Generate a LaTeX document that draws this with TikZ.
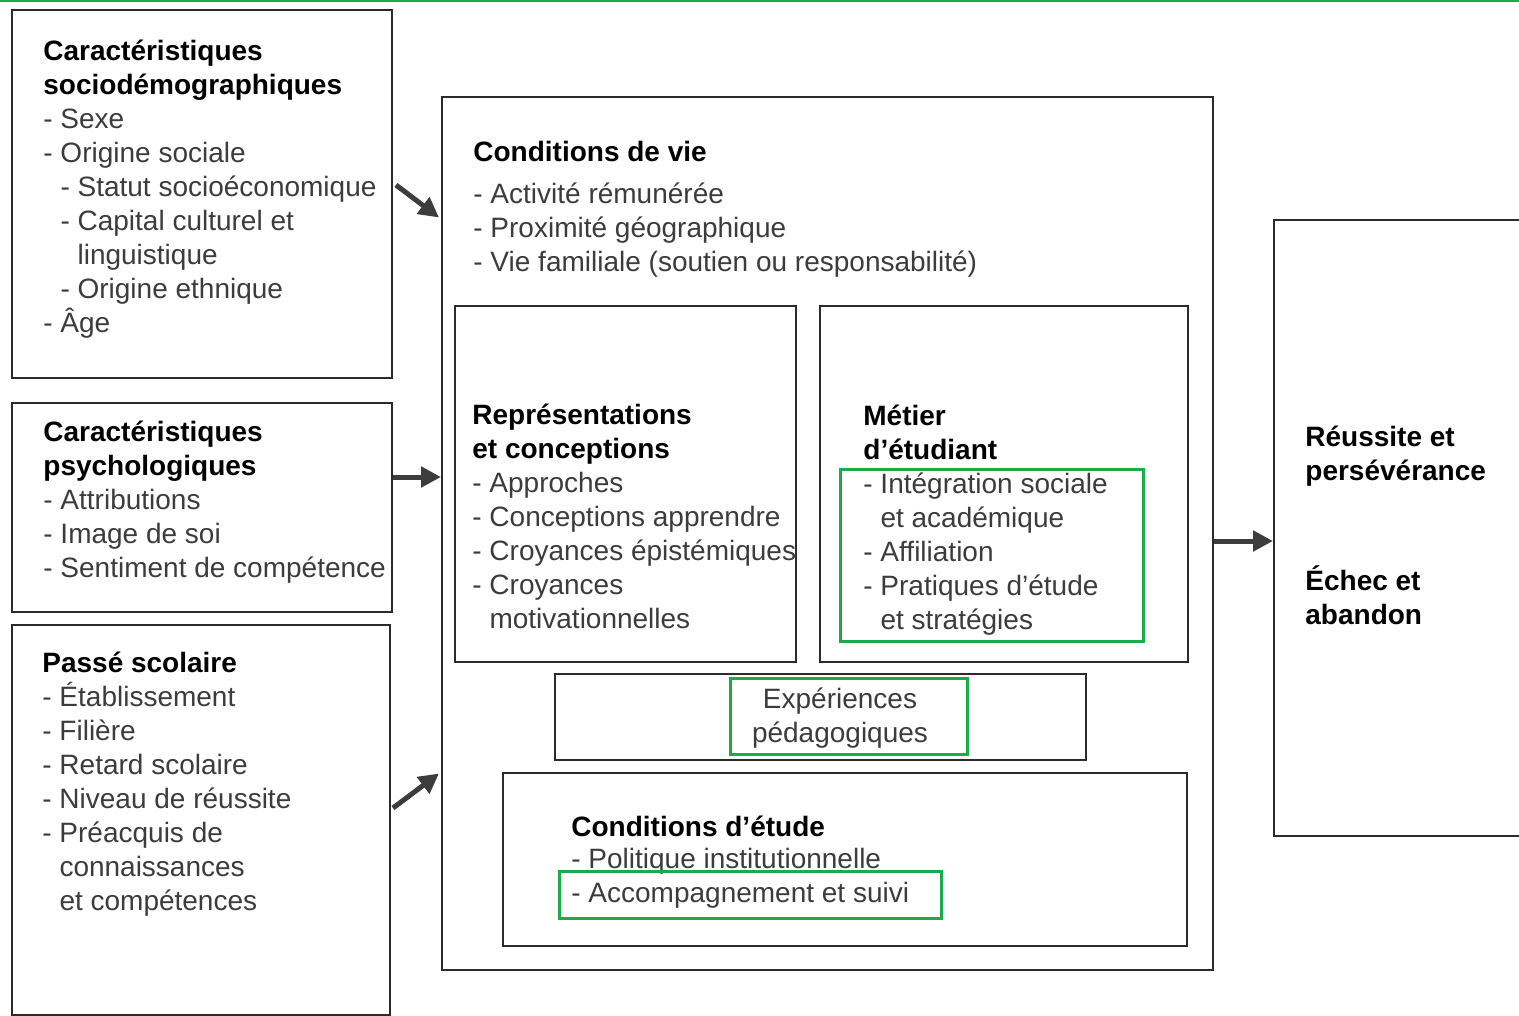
\documentclass[tikz,border=0pt]{standalone}
\usepackage{fontspec}
\setmainfont{Liberation Sans}
\usetikzlibrary{arrows.meta, fit}

\definecolor{ink}{HTML}{2B2B2B}
\definecolor{grayink}{HTML}{3C3C3C}
\definecolor{markgreen}{HTML}{1AAB4A}
\newcommand{\ind}{\phantom{- }}

\begin{document}
\begin{tikzpicture}[x=0.5pt, y=-0.5pt, box node/.style={draw=ink, line width=1pt, inner sep=0pt}, mark node/.style={draw=markgreen, line width=1.5pt, inner sep=0pt},
    text node/.style={anchor=base west, align=left, inner sep=0pt, text=grayink, font=\fontsize{14}{17}\selectfont},
    arrow line/.style={draw=grayink, line width=2.5pt, -{Triangle[length=10pt, width=10pt]}}]
\useasboundingbox[fill=white] (0,0) rectangle (1519,1016);
\draw[draw=markgreen, line width=1.5pt] (0,1) -- (1519,1);
% left column (text nodes sit on the baseline of their last line)
\node[box node, fit={(12,10) (392,378)}] (socio) {};
\node[box node, fit={(12,403) (392,612)}] (psycho) {};
\node[box node, fit={(12,625) (390,1015)}] (passe) {};
\node[text node] (sociotext) at (43,332) {\textbf{\color{black}Caractéristiques}\\\textbf{\color{black}sociodémographiques}\\- Sexe\\- Origine sociale\\\ind- Statut socioéconomique\\\ind- Capital culturel et\\\ind\ind linguistique\\\ind- Origine ethnique\\- Âge};
\node[text node] (psychotext) at (43,577) {\textbf{\color{black}Caractéristiques}\\\textbf{\color{black}psychologiques}\\- Attributions\\- Image de soi\\- Sentiment de compétence};
\node[text node] (passetext) at (42,910) {\textbf{\color{black}Passé scolaire}\\- Établissement\\- Filière\\- Retard scolaire\\- Niveau de réussite\\- Préacquis de\\\ind connaissances\\\ind et compétences};
% central block
\node[box node, fit={(442,97) (1213,970)}] (vie) {};
\node[box node, fit={(455,306) (796,662)}] (repr) {};
\node[box node, fit={(820,306) (1188,662)}] (metier) {};
\node[box node, fit={(555,674) (1086,760)}] (expe) {};
\node[box node, fit={(503,773) (1187,946)}] (etude) {};
\node[text node] (vietext) at (473,271) {\textbf{\color{black}Conditions de vie}\\[4pt]- Activité rémunérée\\- Proximité géographique\\- Vie familiale (soutien ou responsabilité)};
\node[text node] (reprtext) at (472,628) {\textbf{\color{black}Représentations}\\\textbf{\color{black}et conceptions}\\- Approches\\- Conceptions apprendre\\- Croyances épistémiques\\- Croyances\\\ind motivationnelles};
\node[text node] (metiertext) at (863,629) {\textbf{\color{black}Métier}\\\textbf{\color{black}d’étudiant}\\- Intégration sociale\\\ind et académique\\- Affiliation\\- Pratiques d’étude\\\ind et stratégies};
\node[text node, anchor=base, align=center] (expetext) at (840,742) {Expériences\\pédagogiques};
\node[text node] (etudetext) at (571,902) {\textbf{\color{black}Conditions d’étude}\\[-1pt]- Politique institutionnelle\\- Accompagnement et suivi};
% outcome
\node[box node, fit={(1274,220) (1540,836)}] (issue) {};
\node[text node] (issuetext) at (1305,624) {\textbf{\color{black}Réussite et}\\\textbf{\color{black}persévérance}\\[38pt]\textbf{\color{black}Échec et}\\\textbf{\color{black}abandon}};
% highlights
\node[mark node, fit={(840,469) (1143,641)}] (markmetier) {};
\node[mark node, fit={(730,678) (967,754)}] (markexpe) {};
\node[mark node, fit={(559,871) (941,918)}] (marksuivi) {};
% arrows
\draw[arrow line] ([shift={(3,-9)}]socio.east) -- ([shift={(-2,-316)}]vie.west);
\draw[arrow line] (psycho.east |- 0,477) -- (vie.west |- 0,477);
\draw[arrow line] ([shift={(2,-12)}]passe.east) -- ([shift={(-2,240)}]vie.west);
\draw[arrow line] (vie.east |- 0,541) -- (issue.west |- 0,541);
\end{tikzpicture}
\end{document}
